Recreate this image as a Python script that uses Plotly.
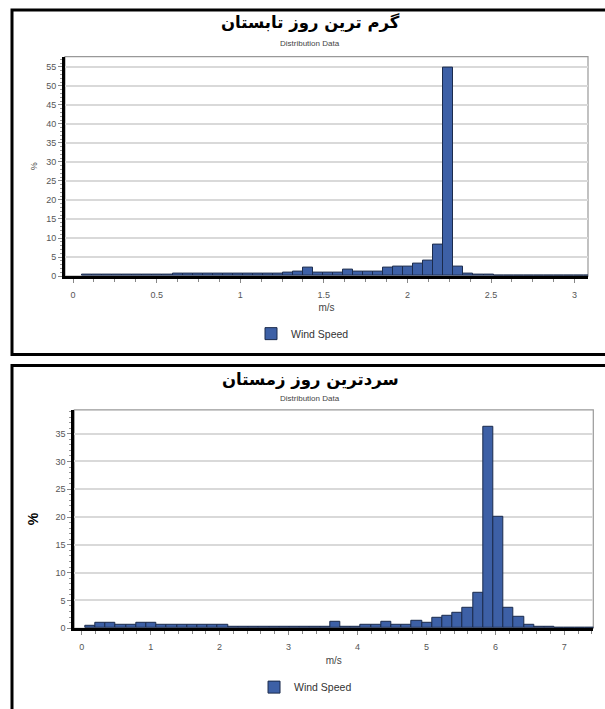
import plotly.graph_objects as go

# ---------------- data ----------------
summer_title = "گرم ترین روز تابستان"
winter_title = "سردترین روز زمستان"
subtitle = "Distribution Data"
series_name = "Wind Speed"
x_label = "m/s"
y_label = "%"

summer_bin_start = 0.055
summer_bin_width = 0.06
summer_pct = [0.3, 0.3, 0.3, 0.3, 0.3, 0.3, 0.3, 0.3, 0.3,
              0.6, 0.6, 0.6, 0.6, 0.6, 0.6, 0.6, 0.6, 0.6, 0.6, 0.6,
              1.0, 1.1, 2.2, 0.9, 0.9, 0.9, 1.6, 1.2, 1.2, 1.2,
              2.1, 2.4, 2.4, 3.2, 4.1, 8.4, 54.7, 2.4, 0.6, 0.3, 0.25,
              0.1, 0.1, 0.1, 0.1, 0.1, 0.1, 0.1, 0.1, 0.1, 0.1]
summer_xticks = [0, 0.5, 1, 1.5, 2, 2.5, 3]
summer_yticks = [0, 5, 10, 15, 20, 25, 30, 35, 40, 45, 50, 55]

winter_bin_start = 0.05
winter_bin_width = 0.148
winter_pct = [0.5, 0.9, 0.9, 0.6, 0.6, 0.9, 0.9,
              0.55, 0.55, 0.55, 0.55, 0.55, 0.55, 0.55,
              0.25, 0.25, 0.25, 0.25, 0.25, 0.25, 0.25, 0.25, 0.25, 0.25,
              1.1, 0.35, 0.35, 0.65, 0.65, 1.25, 0.65, 0.65, 1.4, 0.95,
              1.85, 2.3, 2.7, 3.6, 6.3, 36.3, 20.1, 3.6, 2.15, 0.65,
              0.25, 0.25, 0.1, 0.1, 0.1, 0.1]
winter_xticks = [0, 1, 2, 3, 4, 5, 6, 7]
winter_yticks = [0, 5, 10, 15, 20, 25, 30, 35]

# ---------------- figure ----------------
W, H = 605, 709
BAR_FILL = "#3d60a6"
BAR_LINE = "#1b2b4c"
TICK_FONT = dict(family="Liberation Sans, Arial, sans-serif", size=9, color="#555555")


def px_x(p):
    return p / W


def px_y(p):
    return 1 - p / H


def centers(start, width, n):
    return [start + width * (i + 0.5) for i in range(n)]


fig = go.Figure()

fig.add_trace(go.Bar(
    x=centers(summer_bin_start, summer_bin_width, len(summer_pct)),
    y=summer_pct, width=summer_bin_width, name=series_name,
    marker=dict(color=BAR_FILL, line=dict(color=BAR_LINE, width=1)),
    xaxis="x", yaxis="y", legend="legend", showlegend=True,
))
fig.add_trace(go.Bar(
    x=centers(winter_bin_start, winter_bin_width, len(winter_pct)),
    y=winter_pct, width=winter_bin_width, name=series_name,
    marker=dict(color=BAR_FILL, line=dict(color=BAR_LINE, width=1)),
    xaxis="x2", yaxis="y2", legend="legend2", showlegend=True,
))

common_x = dict(showgrid=False, zeroline=False, showline=True, linecolor="black",
                linewidth=3, ticks="outside", ticklen=4, tickcolor="#888888",
                tickfont=TICK_FONT, ticklabelstandoff=4)
common_y = dict(showgrid=True, gridcolor="#d9d9d9", gridwidth=1.5, zeroline=False,
                showline=True, linecolor="black", linewidth=3, ticks="outside",
                ticklen=4, tickcolor="#888888", tickfont=TICK_FONT)

fig.update_layout(
    width=W, height=H, margin=dict(l=0, r=0, t=0, b=0),
    paper_bgcolor="white", plot_bgcolor="white", bargap=0,
    xaxis=dict(common_x, domain=[px_x(65), px_x(588)], anchor="y",
               range=[-0.048, 3.08], tickvals=summer_xticks,
               minor=dict(dtick=0.125, tick0=0, ticks="outside", ticklen=3, tickcolor="#888888"),
               title=dict(text=x_label, font=dict(family="Liberation Sans, Arial", size=10, color="#444"), standoff=6)),
    yaxis=dict(common_y, domain=[px_y(278), px_y(57)], anchor="x",
               range=[0, 57.7], tickvals=summer_yticks,
               minor=dict(dtick=1, tick0=0, ticks="outside", ticklen=2, tickcolor="#999999"),
               title=dict(text=y_label, font=dict(family="Liberation Sans, Arial", size=9, color="#444"), standoff=8)),
    xaxis2=dict(common_x, domain=[px_x(74.3), px_x(593.3)], anchor="y2",
                range=[-0.107, 7.42], tickvals=winter_xticks,
                minor=dict(dtick=0.2, tick0=0, ticks="outside", ticklen=3, tickcolor="#888888"),
                title=dict(text=x_label, font=dict(family="Liberation Sans, Arial", size=10, color="#444"), standoff=6)),
    yaxis2=dict(common_y, domain=[px_y(632.7), px_y(412.7)], anchor="x2",
                range=[0, 39.3], tickvals=winter_yticks,
                minor=dict(dtick=1, tick0=0, ticks="outside", ticklen=2, tickcolor="#999999"),
                title=dict(text="<b>" + y_label + "</b>", font=dict(family="Liberation Sans, Arial", size=14, color="black"), standoff=14)),
    legend=dict(x=0.50, y=px_y(336), xanchor="center", yanchor="middle",
                font=dict(family="Liberation Sans, Arial", size=10.5, color="#333"),
                itemwidth=30, bgcolor="rgba(0,0,0,0)"),
    legend2=dict(x=0.505, y=px_y(692), xanchor="center", yanchor="middle",
                 font=dict(family="Liberation Sans, Arial", size=10.5, color="#333"),
                 itemwidth=30, bgcolor="rgba(0,0,0,0)"),
)

annotations = [
    dict(text="<b>" + summer_title + "</b>", x=px_x(310), y=px_y(23), xref="paper", yref="paper",
         xanchor="center", yanchor="middle",
         showarrow=False, font=dict(family="DejaVu Sans", size=16.5, color="black")),
    dict(text=subtitle, x=px_x(310), y=px_y(44), xref="paper", yref="paper",
         xanchor="center", yanchor="middle",
         showarrow=False, font=dict(family="Liberation Sans, Arial", size=8, color="#444")),
    dict(text="<b>" + winter_title + "</b>", x=px_x(310), y=px_y(383), xref="paper", yref="paper",
         xanchor="center", yanchor="middle",
         showarrow=False, font=dict(family="DejaVu Sans", size=16.5, color="black")),
    dict(text=subtitle, x=px_x(310), y=px_y(401), xref="paper", yref="paper",
         xanchor="center", yanchor="middle",
         showarrow=False, font=dict(family="Liberation Sans, Arial", size=8, color="#444")),
]
fig.update_layout(annotations=annotations)

shapes = [
    # plot-area borders
    dict(type="rect", xref="x domain", yref="y domain", x0=0, x1=1, y0=0, y1=1,
         line=dict(color="#999999", width=1.2), layer="below"),
    dict(type="rect", xref="x2 domain", yref="y2 domain", x0=0, x1=1, y0=0, y1=1,
         line=dict(color="#999999", width=1.2), layer="below"),
    # outer black frames
    dict(type="rect", xref="paper", yref="paper", x0=px_x(12), x1=1.02,
         y0=px_y(357), y1=px_y(10), line=dict(color="black", width=3)),
    dict(type="rect", xref="paper", yref="paper", x0=px_x(12), x1=1.02,
         y0=-0.02, y1=px_y(368), line=dict(color="black", width=3)),
]
fig.update_layout(shapes=shapes)

fig.write_html("out.html",
               config={"displayModeBar": False},
               post_script="document.body.style.margin='0';document.body.style.overflow='hidden';")
